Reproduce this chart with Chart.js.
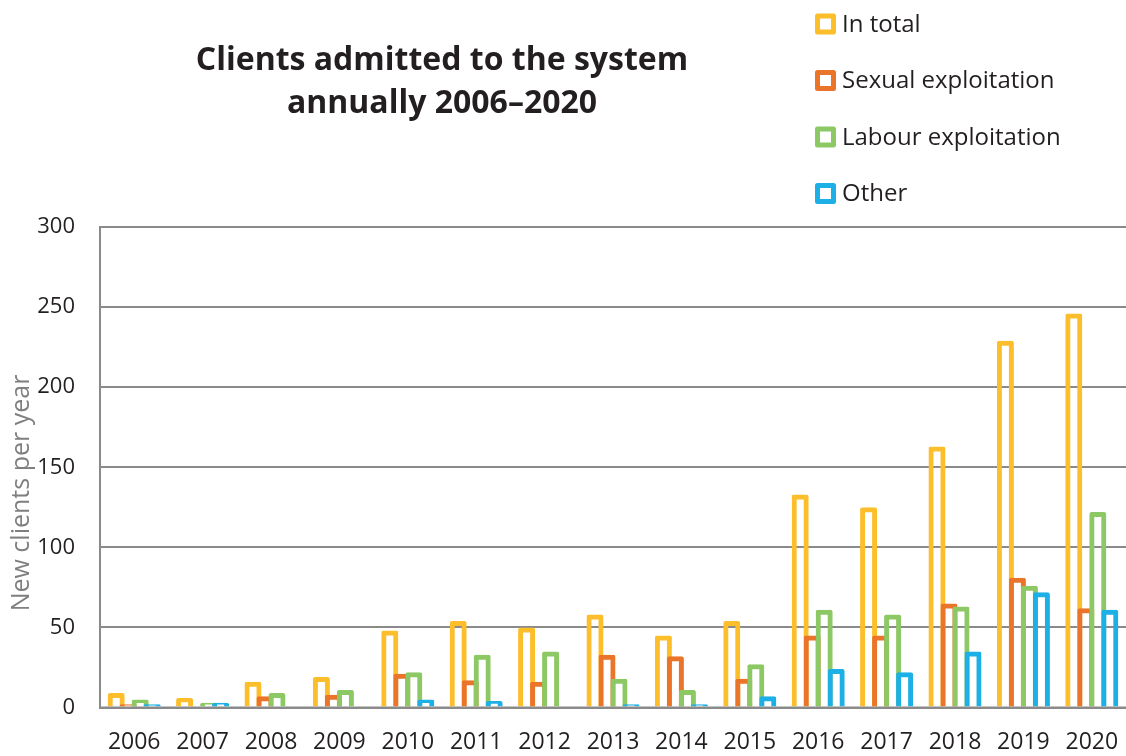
<!DOCTYPE html>
<html>
<head>
<meta charset="utf-8">
<script src="https://cdn.jsdelivr.net/npm/chart.js@4.4.1/dist/chart.umd.min.js"></script>
<style>
  html, body { margin: 0; padding: 0; background: #ffffff; }
  #wrap { width: 1126px; height: 756px; position: relative; }
</style>
</head>
<body>
<div id="wrap"><canvas id="clients" width="1126" height="756"></canvas></div>
<script>
// Clients admitted to the system per year, by type of exploitation
const years = ['2006', '2007', '2008', '2009', '2010', '2011', '2012', '2013',
               '2014', '2015', '2016', '2017', '2018', '2019', '2020'];
const inTotal            = [9, 6, 16, 19, 48, 54, 50, 58, 45, 54, 133, 125, 163, 229, 246];
const sexualExploitation = [2, 0, 7, 8, 21, 17, 16, 33, 32, 18, 45, 45, 65, 81, 62];
const labourExploitation = [5, 3, 9, 11, 22, 33, 35, 18, 11, 27, 61, 58, 63, 76, 122];
const other              = [2, 3, 0, 0, 5, 4, 0, 2, 2, 7, 24, 22, 35, 72, 61];

const seriesNames  = ['In total', 'Sexual exploitation', 'Labour exploitation', 'Other'];
const seriesColors = ['#FCBE2B', '#E9742A', '#8CC864', '#1CB0E6'];
const titleLines   = ['Clients admitted to the system', 'annually 2006\u20132020'];
const yAxisTitle   = 'New clients per year';

const TEXT = '#231f20';
const GRID = '#8a8a8a';
const FONT = '"Open Sans", "Noto Sans", sans-serif';

const seriesValues = [inTotal, sexualExploitation, labourExploitation, other];

// Draw the series left to right so each later bar sits over its neighbour
const seriesOrder = {
  id: 'seriesOrder',
  beforeDatasetsDraw(chart) {
    const ctx = chart.ctx;
    const a = chart.chartArea;
    ctx.save();
    ctx.beginPath();
    ctx.rect(a.left, a.top - 10, a.right - a.left, a.bottom - a.top + 10);
    ctx.clip();
    chart.data.datasets.forEach((ds, i) => {
      const meta = chart.getDatasetMeta(i);
      if (meta.visible !== false) meta.controller.draw();
    });
    ctx.restore();
    return false;
  }
};

// Title, legend, rotated axis title and the base line over the bar feet
const decorations = {
  id: 'decorations',
  afterDraw(chart) {
    const ctx = chart.ctx;
    ctx.save();

    // baseline
    const y0 = chart.scales.y.getPixelForValue(0);
    ctx.strokeStyle = GRID;
    ctx.lineWidth = 2;
    ctx.beginPath();
    ctx.moveTo(chart.chartArea.left, y0);
    ctx.lineTo(chart.chartArea.right, y0);
    ctx.stroke();

    // title
    ctx.fillStyle = TEXT;
    ctx.font = 'bold 32px ' + FONT;
    ctx.textAlign = 'center';
    ctx.textBaseline = 'middle';
    ctx.fillText(titleLines[0], 442, 61);
    ctx.fillText(titleLines[1], 442, 104);

    // legend
    ctx.font = '24px ' + FONT;
    ctx.textAlign = 'left';
    chart.data.datasets.forEach((ds, i) => {
      const cy = 24 + i * 56.5;
      ctx.strokeStyle = ds.borderColor;
      ctx.lineWidth = 5;
      ctx.lineJoin = 'round';
      ctx.strokeRect(817.5, cy - 8, 16, 16);
      ctx.fillStyle = TEXT;
      ctx.fillText(ds.label, 842, cy + 1);
    });

    // y axis title
    ctx.translate(22, 493);
    ctx.rotate(-Math.PI / 2);
    ctx.textAlign = 'center';
    ctx.fillStyle = '#7f7f7f';
    ctx.font = '25px ' + FONT;
    ctx.fillText(yAxisTitle, 0, 0);

    ctx.restore();
  }
};

new Chart(document.getElementById('clients'), {
  type: 'bar',
  data: {
    labels: years,
    datasets: seriesValues.map((vals, i) => ({
      label: seriesNames[i],
      data: vals,
      backgroundColor: 'rgba(255,255,255,0)',
      borderColor: seriesColors[i],
      borderWidth: 5,
      borderSkipped: 'start',
      borderRadius: { topLeft: 2, topRight: 2 },
      inflateAmount: 0
    }))
  },
  options: {
    responsive: false,
    animation: false,
    categoryPercentage: 0.702,
    barPercentage: 1.42,
    layout: { padding: { top: 227, left: 0, right: 0, bottom: 0 } },
    plugins: {
      legend: { display: false },
      title: { display: false },
      tooltip: { enabled: false }
    },
    scales: {
      x: {
        offset: true,
        grid: { display: false, drawTicks: false },
        border: { display: false },
        ticks: {
          color: TEXT,
          font: { family: FONT, size: 23 },
          padding: 21,
          maxRotation: 0,
          autoSkip: false
        },
        afterFit(scale) {
          scale.height = 48.5;
          scale.paddingLeft = 0;
          scale.paddingRight = 0;
        }
      },
      y: {
        min: 0,
        max: 300,
        grid: { color: GRID, lineWidth: 2, drawTicks: false },
        border: { color: GRID, width: 2 },
        ticks: {
          stepSize: 50,
          color: TEXT,
          font: { family: FONT, size: 22 },
          padding: 25
        },
        afterFit(scale) { scale.width = 100; }
      }
    }
  },
  plugins: [seriesOrder, decorations]
});
</script>
</body>
</html>
